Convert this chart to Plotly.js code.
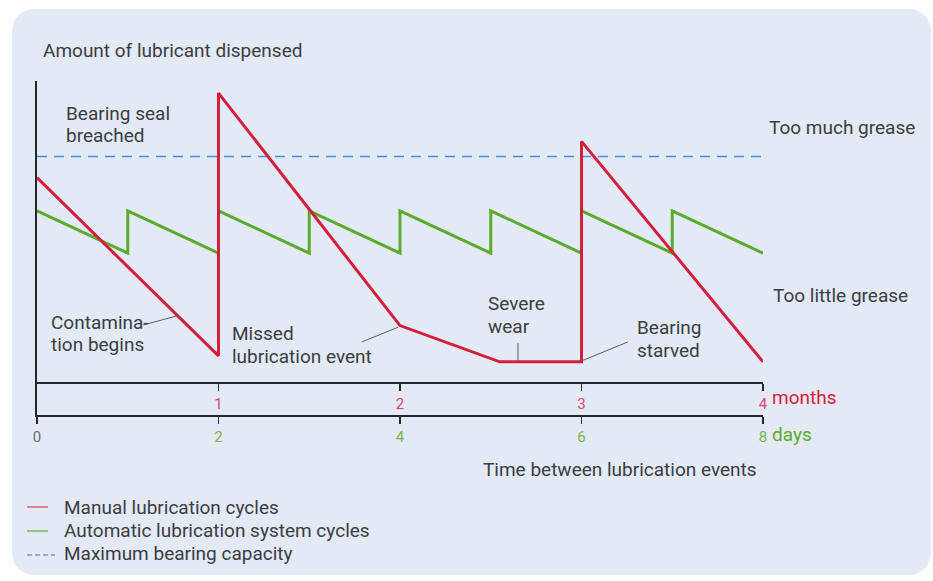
<!DOCTYPE html>
<html>
<head>
<meta charset="utf-8">
<script src="https://cdn.plot.ly/plotly-3.0.1.min.js"></script>
<style>
  html, body { margin: 0; padding: 0; background: #ffffff; width: 933px; height: 581px; overflow: hidden; }
  #panel { position: absolute; left: 12px; top: 9px; width: 919px; height: 566px; border-radius: 22px; background: #e4e9f6; }
  #chart { position: absolute; left: 0; top: 0; width: 933px; height: 581px; }
</style>
</head>
<body>
<div id="panel"></div>
<div id="chart"></div>
<script>
// ---- Data ----
// Manual lubrication cycles, x in months
const manualMonths = [0, 1, 1, 2, 2.55, 3, 3, 4];
const manualAmount = [68, 9, 96, 19, 7, 7, 80, 7];
// Automatic lubrication system cycles, x in days
const autoDays   = [0, 1, 1, 2, 2, 3, 3, 4, 4, 5, 5, 6, 6, 7, 7, 8];
const autoAmount = [57, 43, 57, 43, 57, 43, 57, 43, 57, 43, 57, 43, 57, 43, 57, 43];
// Maximum bearing capacity
const capacityMonths = [0, 4];
const capacityAmount = [75, 75];
// Tick labels
const monthTicks = [1, 2, 3, 4];
const dayTicks = [0, 2, 4, 6, 8];

// ---- Styling ----
const RED = '#d41f3c';
const GREEN = '#5aad2c';
const BLUE = '#4a8fd6';
const TEXT = '#3b3d42';
const AXIS = '#25272b';
const FONT = 'Roboto, "DejaVu Sans", sans-serif';
const FS = 19;

// pixel -> paper helpers (plot area: x 37..763, y 81..415)
const L = 37, R = 170, T = 81, B = 166, W = 933 - L - R, H = 581 - T - B;
const px = x => (x - L) / W;
const py = y => (581 - B - y) / H;

const traces = [
  { x: capacityMonths, y: capacityAmount, xaxis: 'x2', yaxis: 'y', mode: 'lines',
    line: { color: BLUE, width: 1.6, dash: '10px,7px' }, name: 'Maximum bearing capacity', hoverinfo: 'skip' },
  { x: autoDays, y: autoAmount, xaxis: 'x', yaxis: 'y', mode: 'lines',
    line: { color: GREEN, width: 3 }, name: 'Automatic lubrication system cycles' },
  { x: manualMonths, y: manualAmount, xaxis: 'x2', yaxis: 'y', mode: 'lines',
    line: { color: RED, width: 3 }, name: 'Manual lubrication cycles' }
];

function ann(text, x, y, opts) {
  return Object.assign({
    text: text, xref: 'paper', yref: 'paper', x: px(x), y: py(y),
    xanchor: 'left', yanchor: 'middle', showarrow: false, align: 'left',
    font: { family: FONT, size: FS, color: TEXT }
  }, opts || {});
}

const annotations = [
  ann('Amount of lubricant dispensed', 41, 50),
  ann('Bearing seal', 64, 113),
  ann('breached', 64, 135),
  ann('Too much grease', 767, 127),
  ann('Too little grease', 771, 295),
  ann('Contamina-', 49, 322),
  ann('tion begins', 49, 344),
  ann('Missed', 230, 333),
  ann('lubrication event', 230, 356),
  ann('Severe', 486, 303),
  ann('wear', 486, 326),
  ann('Bearing', 635, 327),
  ann('starved', 635, 350),
  ann('months', 770, 397, { font: { family: FONT, size: FS, color: RED } }),
  ann('days', 770, 434, { font: { family: FONT, size: FS, color: GREEN } }),
  ann('Time between lubrication events', 481, 469),
  ann('Manual lubrication cycles', 62, 507),
  ann('Automatic lubrication system cycles', 62, 530),
  ann('Maximum bearing capacity', 62, 553)
];

function leader(x0, y0, x1, y1) {
  return { type: 'line', xref: 'x2', yref: 'y', x0: x0, y0: y0, x1: x1, y1: y1,
           line: { color: '#5b5e66', width: 1 } };
}
function legendLine(y, color, dash) {
  return { type: 'line', xref: 'paper', yref: 'paper', x0: px(27), x1: px(dash ? 55 : 48), y0: py(y), y1: py(y),
           line: { color: color, width: 1.5, dash: dash || 'solid' } };
}

const shapes = [
  leader(0.584, 19.2, 0.771, 22.2),
  leader(1.79, 13.6, 1.99, 18.5),
  leader(2.65, 13.2, 2.65, 7),
  leader(3.0, 7.3, 3.256, 13.6),
  // small extension of y-axis below the days axis
  { type: 'line', xref: 'paper', yref: 'paper', x0: 0, x1: 0, y0: 0, y1: py(423), line: { color: AXIS, width: 2 } },
  legendLine(507, '#e0606e'),
  legendLine(531, '#79b957'),
  legendLine(555, '#6a9fd8', '5px,3px')
];

const layout = {
  width: 933, height: 581,
  margin: { l: L, r: R, t: T, b: B, pad: 0 },
  paper_bgcolor: 'rgba(0,0,0,0)',
  plot_bgcolor: 'rgba(0,0,0,0)',
  showlegend: false,
  font: { family: FONT, color: TEXT },
  xaxis: {
    range: [0, 8], anchor: 'y', side: 'bottom',
    showline: true, linecolor: AXIS, linewidth: 2, mirror: false,
    showgrid: false, zeroline: false,
    tickmode: 'array', tickvals: dayTicks,
    ticktext: dayTicks.map(v => v === 0 ? '<span style="color:#6d7078">0</span>' : String(v)),
    ticks: 'outside', ticklen: 7, tickwidth: 1.5, tickcolor: AXIS,
    tickfont: { family: FONT, size: 15, color: '#78b552' }
  },
  xaxis2: {
    range: [0, 4], overlaying: 'x', anchor: 'free', position: py(383), side: 'bottom',
    showline: true, linecolor: AXIS, linewidth: 2,
    showgrid: false, zeroline: false,
    tickmode: 'array', tickvals: monthTicks,
    ticks: 'outside', ticklen: 7, tickwidth: 1.5, tickcolor: AXIS,
    tickfont: { family: FONT, size: 15, color: '#d94a6c' }
  },
  yaxis: {
    range: [-10.6, 100],
    showline: true, linecolor: AXIS, linewidth: 2,
    showgrid: false, zeroline: false, showticklabels: false, ticks: ''
  },
  annotations: annotations,
  shapes: shapes
};

Plotly.newPlot('chart', traces, layout, { displayModeBar: false, staticPlot: true });
</script>
</body>
</html>
